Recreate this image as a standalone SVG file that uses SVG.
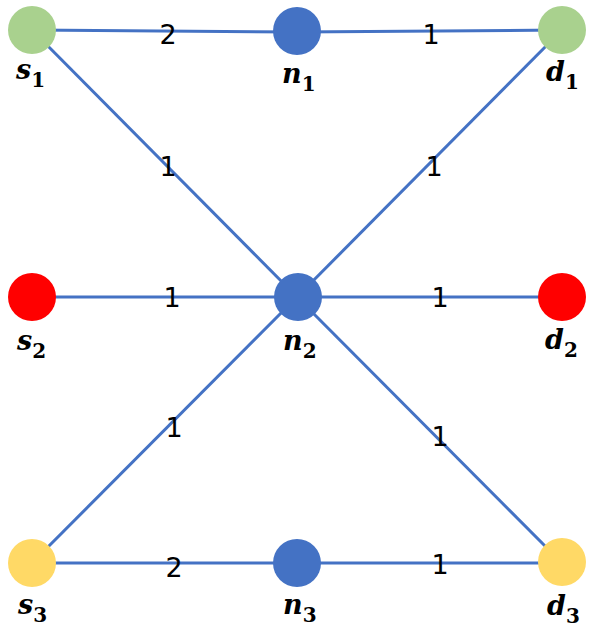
<svg xmlns="http://www.w3.org/2000/svg" width="594" height="633" viewBox="0 0 594 633">
<style>
.e{stroke:#4472C4;stroke-width:3;fill:none}
.w{font-family:"DejaVu Sans","Liberation Sans",sans-serif;font-size:27px;fill:#000;text-anchor:middle}
.l{font-family:"DejaVu Serif","Liberation Serif",serif;font-weight:bold;font-style:italic;font-size:27px;fill:#000}
.s{font-size:20px;font-style:normal}
.g{fill:#A9D18E}.b{fill:#4472C4}.r{fill:#FF0000}.y{fill:#FFD966}
</style>
<rect width="594" height="633" fill="#fff"/>
<g id="connectors">
<line class="e" x1="32" y1="30" x2="297" y2="32"/>
<line class="e" x1="297" y1="32" x2="562" y2="30"/>
<line class="e" x1="32" y1="30" x2="297" y2="297"/>
<line class="e" x1="562" y1="30" x2="297" y2="297"/>
<line class="e" x1="32" y1="297" x2="562" y2="297"/>
<line class="e" x1="297" y1="297" x2="32" y2="563"/>
<line class="e" x1="297" y1="297" x2="562" y2="563"/>
<line class="e" x1="32" y1="563" x2="297" y2="563"/>
<line class="e" x1="297" y1="563" x2="562" y2="563"/>
<text class="w" x="168" y="44">2</text>
<text class="w" x="431" y="44">1</text>
<text class="w" x="168" y="176">1</text>
<text class="w" x="434" y="176">1</text>
<text class="w" x="172" y="307">1</text>
<text class="w" x="440" y="307">1</text>
<text class="w" x="174" y="437">1</text>
<text class="w" x="440" y="446">1</text>
<text class="w" x="174" y="577">2</text>
<text class="w" x="440" y="574">1</text>
</g>
<g id="s1"><circle class="g" cx="32" cy="30" r="24"/><text class="l" x="16" y="79">s<tspan class="s" dy="8">1</tspan></text></g>
<g id="n1"><circle class="b" cx="297" cy="31" r="24"/><text class="l" x="282" y="83">n<tspan class="s" dy="8">1</tspan></text></g>
<g id="d1"><circle class="g" cx="562" cy="30" r="24"/><text class="l" x="546" y="81">d<tspan class="s" dy="8">1</tspan></text></g>
<g id="s2"><circle class="r" cx="32" cy="297" r="24"/><text class="l" x="17" y="350">s<tspan class="s" dy="8">2</tspan></text></g>
<g id="n2"><circle class="b" cx="298" cy="297" r="24"/><text class="l" x="283" y="350">n<tspan class="s" dy="8">2</tspan></text></g>
<g id="d2"><circle class="r" cx="562" cy="297" r="24"/><text class="l" x="545" y="349">d<tspan class="s" dy="8">2</tspan></text></g>
<g id="s3"><circle class="y" cx="32" cy="563" r="24"/><text class="l" x="18" y="614">s<tspan class="s" dy="8">3</tspan></text></g>
<g id="n3"><circle class="b" cx="297" cy="563" r="24"/><text class="l" x="283" y="614">n<tspan class="s" dy="8">3</tspan></text></g>
<g id="d3"><circle class="y" cx="562" cy="562" r="24"/><text class="l" x="547" y="615">d<tspan class="s" dy="8">3</tspan></text></g>
</svg>
